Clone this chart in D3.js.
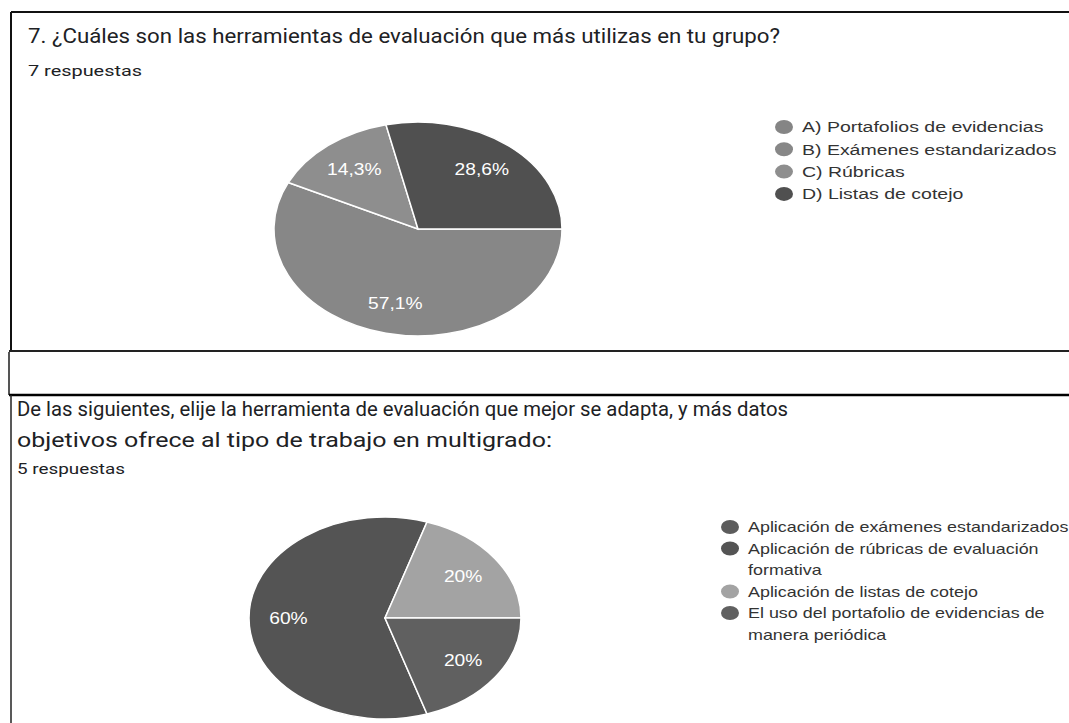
<!DOCTYPE html>
<html>
<head>
<meta charset="utf-8">
<script src="https://cdnjs.cloudflare.com/ajax/libs/d3/7.8.5/d3.min.js"></script>
<style>
  html, body { margin: 0; padding: 0; background: #fff; overflow: hidden; }
</style>
</head>
<body>
<div id="chart"></div>
<script>
// ---- data: first question ----
var title1 = "7. ¿Cuáles son las herramientas de evaluación que más utilizas en tu grupo?";
var count1 = "7 respuestas";
var cats1 = ["A) Portafolios de evidencias", "B) Exámenes estandarizados", "C) Rúbricas", "D) Listas de cotejo"];
var values1 = [0, 4, 1, 2];
var colors1 = ["#858585", "#878787", "#8e8e8e", "#505050"];

// ---- data: second question ----
var title2 = ["De las siguientes, elije la herramienta de evaluación que mejor se adapta, y más datos",
              "objetivos ofrece al tipo de trabajo en multigrado:"];
var count2 = "5 respuestas";
var cats2 = ["Aplicación de exámenes estandarizados", "Aplicación de rúbricas de evaluación formativa",
             "Aplicación de listas de cotejo", "El uso del portafolio de evidencias de manera periódica"];
var values2 = [0, 3, 1, 1];
var colors2 = ["#5c5c5c", "#545454", "#a3a3a3", "#606060"];

var W = 1069, H = 723;
var es = d3.formatLocale({decimal: ",", thousands: ".", grouping: [3], currency: ["", "€"]});
var pct = es.format(".3~r");

var svg = d3.select("#chart").append("svg")
  .attr("width", W).attr("height", H)
  .style("display", "block");

// panel frames
function line(x1, y1, x2, y2, col, w) {
  svg.append("line").attr("x1", x1).attr("y1", y1).attr("x2", x2).attr("y2", y2)
    .attr("stroke", col).attr("stroke-width", w);
}
line(11, 12, W, 12, "#111", 2);
line(11, 12, 11, 351, "#111", 2);
line(9, 351, W, 351, "#222", 2);
line(9, 352, 9, 395, "#555", 2);
line(9, 395, W, 395, "#000", 2.5);
line(11, 395, 11, H, "#222", 1.5);

// headings, fitted to the width they take in the picture
function heading(txt, x, y, size, len) {
  svg.append("text")
    .attr("x", x).attr("y", y)
    .attr("font-family", "Roboto, 'Noto Sans', sans-serif")
    .attr("font-size", size)
    .attr("fill", "#202124")
    .attr("textLength", len)
    .attr("lengthAdjust", "spacingAndGlyphs")
    .text(txt);
}
heading(title1, 28, 43, 20, 752);
heading(count1, 28, 76, 14, 114);
heading(title2[0], 17, 416, 20, 771);
heading(title2[1], 17, 447, 20, 535);
heading(count2, 17, 474, 14, 108);

// pie drawn as a circle then squashed into the ellipse of the screenshot
function drawPie(values, colors, o) {
  var R = 100, sx = 1.2;
  var total = d3.sum(values);
  var pie = d3.pie().sort(null).value(function(d) { return d; })
    .startAngle(o.start).endAngle(o.start + 2 * Math.PI);
  var arcs = pie(values).map(function(a, i) { a.color = colors[i]; return a; })
    .filter(function(a) { return a.value > 0; });
  var arc = d3.arc().innerRadius(0).outerRadius(R);
  var labelArc = d3.arc().innerRadius(R * 0.71).outerRadius(R * 0.71);

  var body = svg.append("g")
    .attr("transform", "translate(" + o.cx + "," + o.cy + ") scale(" + (o.rx / R) + "," + (o.ry / R) + ")");
  body.selectAll("path")
    .data(arcs)
    .join("path")
      .attr("d", arc)
      .attr("fill", function(d) { return d.color; })
      .attr("stroke", "#fff")
      .attr("stroke-width", 1.5)
      .attr("vector-effect", "non-scaling-stroke");

  svg.append("g").selectAll("g")
    .data(arcs)
    .join("g")
      .attr("transform", function(d) {
        var c = labelArc.centroid(d);
        return "translate(" + (o.cx + c[0] * o.rx / R) + "," + (o.cy + c[1] * o.ry / R) + ") scale(" + sx + ",1)";
      })
    .append("text")
      .attr("text-anchor", "middle")
      .attr("dy", "0.36em")
      .attr("font-family", "'Liberation Sans', Arial, sans-serif")
      .attr("font-size", 16)
      .attr("fill", "#fff")
      .text(function(d) { return pct(d.value / total * 100) + "%"; });
}

// legend with simple word wrap
function drawLegend(cats, colors, o) {
  var g = svg.append("g");
  var font = "'Liberation Sans', Arial, sans-serif";
  var probe = g.append("text").attr("font-family", font).attr("font-size", o.size);
  function width(s) { probe.text(s); return probe.node().getComputedTextLength() * o.sx; }

  var y = o.y;
  cats.forEach(function(c, i) {
    g.append("ellipse")
      .attr("cx", o.x).attr("cy", y)
      .attr("rx", 9).attr("ry", 7)
      .attr("fill", colors[i]);
    var words = c.split(" "), lines = [], cur = "";
    words.forEach(function(w) {
      var t = cur ? cur + " " + w : w;
      if (cur && width(t) > o.maxWidth) { lines.push(cur); cur = w; }
      else cur = t;
    });
    lines.push(cur);
    lines.forEach(function(l) {
      g.append("text")
        .attr("transform", "translate(" + (o.x + o.dx) + "," + y + ") scale(" + o.sx + ",1)")
        .attr("dy", "0.36em")
        .attr("font-family", font)
        .attr("font-size", o.size)
        .attr("fill", "#333")
        .text(l);
      y += o.lh;
    });
  });
  probe.remove();
}

drawPie(values1, colors1, {cx: 418, cy: 229, rx: 144, ry: 107, start: Math.PI / 2});
drawLegend(cats1, colors1, {x: 784, y: 127, dx: 18, lh: 22.3, size: 15, sx: 1.3, maxWidth: 1000});

drawPie(values2, colors2, {cx: 385, cy: 618, rx: 136, ry: 101, start: 0.9 * Math.PI});
drawLegend(cats2, colors2, {x: 730, y: 527, dx: 18, lh: 21.5, size: 14, sx: 1.28, maxWidth: 335});
</script>
</body>
</html>
